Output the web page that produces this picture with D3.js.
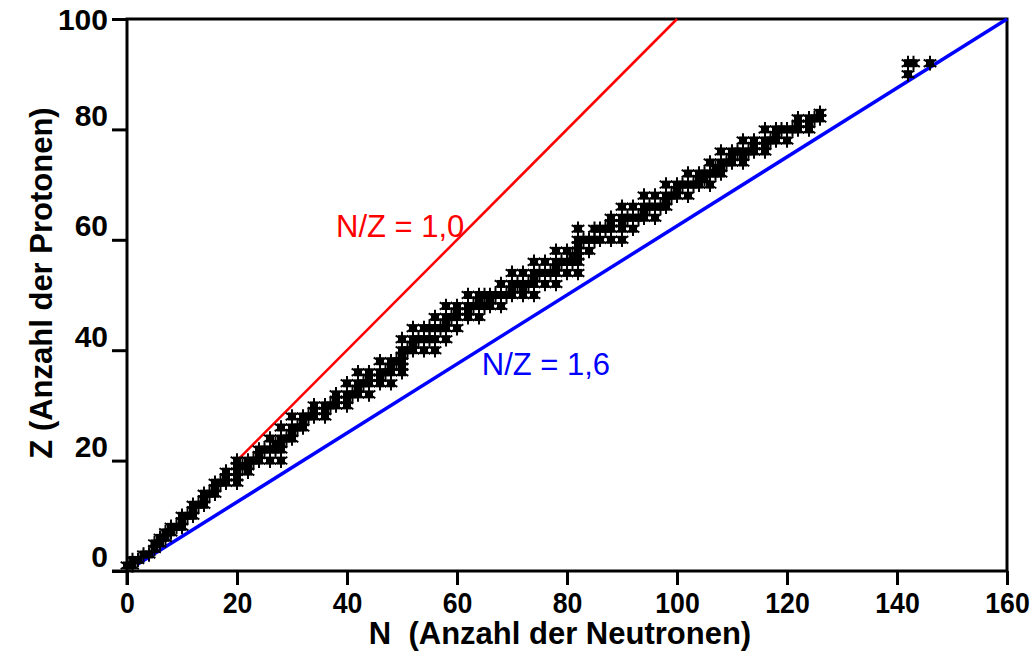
<!DOCTYPE html>
<html>
<head>
<meta charset="utf-8">
<script src="https://cdn.jsdelivr.net/npm/d3@7"></script>
<style>
    body { margin: 0; background: #fff; }
    svg { display: block; font-family: "Liberation Sans", Arial, sans-serif; }
</style>
</head>
<body>
<svg id="chart" width="1031" height="652"></svg>
<script>
// stable (and primordial) nuclides: proton number and the mass numbers found for it
var protonNumbers = [1, 2, 3, 4, 5, 6, 7, 8, 9, 10,
    11, 12, 13, 14, 15, 16, 17, 18, 19, 20,
    21, 22, 23, 24, 25, 26, 27, 28, 29, 30,
    31, 32, 33, 34, 35, 36, 37, 38, 39, 40,
    41, 42, 44, 45, 46, 47, 48, 49, 50, 51,
    52, 53, 54, 55, 56, 57, 58, 59, 60, 62,
    63, 64, 65, 66, 67, 68, 69, 70, 71, 72,
    73, 74, 75, 76, 77, 78, 79, 80, 81, 82,
    83, 90, 92];

var massNumbers = [
    [1, 2], [3, 4], [6, 7], [9], [10, 11], [12, 13], [14, 15], [16, 17, 18], [19], [20, 21, 22],
    [23], [24, 25, 26], [27], [28, 29, 30], [31], [32, 33, 34, 36], [35, 37], [36, 38, 40], [39, 40, 41], [40, 42, 43, 44, 46, 48],
    [45], [46, 47, 48, 49, 50], [50, 51], [50, 52, 53, 54], [55], [54, 56, 57, 58], [59], [58, 60, 61, 62, 64], [63, 65], [64, 66, 67, 68, 70],
    [69, 71], [70, 72, 73, 74, 76], [75], [74, 76, 77, 78, 80, 82], [79, 81], [78, 80, 82, 83, 84, 86], [85, 87], [84, 86, 87, 88], [89], [90, 91, 92, 94, 96],
    [93], [92, 94, 95, 96, 97, 98, 100], [96, 98, 99, 100, 101, 102, 104], [103], [102, 104, 105, 106, 108, 110], [107, 109], [106, 108, 110, 111, 112, 113, 114, 116], [113, 115], [112, 114, 115, 116, 117, 118, 119, 120, 122, 124], [121, 123],
    [120, 122, 123, 124, 125, 126, 128, 130], [127], [124, 126, 128, 129, 130, 131, 132, 134, 136], [133], [130, 132, 134, 135, 136, 137, 138], [138, 139], [136, 138, 140, 142], [141], [142, 143, 144, 145, 146, 148, 150], [144, 147, 148, 149, 150, 152, 154],
    [151, 153], [152, 154, 155, 156, 157, 158, 160], [159], [156, 158, 160, 161, 162, 163, 164], [165], [162, 164, 166, 167, 168, 170], [169], [168, 170, 171, 172, 173, 174, 176], [175, 176], [174, 176, 177, 178, 179, 180],
    [180, 181], [180, 182, 183, 184, 186], [185, 187], [184, 186, 187, 188, 189, 190, 192], [191, 193], [190, 192, 194, 195, 196, 198], [197], [196, 198, 199, 200, 201, 202, 204], [203, 205], [204, 206, 207, 208],
    [209], [232], [234, 235, 238]];

var xTicks = [0, 20, 40, 60, 80, 100, 120, 140, 160];
var yTicks = [0, 20, 40, 60, 80, 100];

// reference lines N/Z = const, given as [N start, N end]
var ratioLines = [
    {ratio: 1.0, range: [20, 100], color: "#ff0000", width: 2.5, label: "N/Z = 1,0", at: [38, 60.5]},
    {ratio: 1.6, range: [2, 160], color: "#0000ff", width: 3.5, label: "N/Z = 1,6", at: [64.5, 35.5]}
];

var svg = d3.select("#chart");

var x = d3.scaleLinear().domain([0, 160]).range([127, 1007]);
var y = d3.scaleLinear().domain([0, 100]).range([571, 19]);

var nuclides = [];
protonNumbers.forEach((z, i) => {
    massNumbers[i].forEach(a => nuclides.push({z: z, n: a - z}));
});

//Frame
svg.append("rect")
    .attr("x", x(0)).attr("y", y(100))
    .attr("width", x(160) - x(0)).attr("height", y(0) - y(100))
    .attr("fill", "none").attr("stroke", "#000").attr("stroke-width", 3);

// axis line extensions past the corner
svg.append("line").attr("x1", x(0) - 15).attr("x2", x(0)).attr("y1", y(0)).attr("y2", y(0))
    .attr("stroke", "#000").attr("stroke-width", 3);
svg.append("line").attr("x1", x(0)).attr("x2", x(0)).attr("y1", y(0)).attr("y2", y(0) + 14)
    .attr("stroke", "#000").attr("stroke-width", 3);

var xAxis = svg.append("g")
    .attr("transform", "translate(0," + y(0) + ")")
    .call(d3.axisBottom(x).tickValues(xTicks).tickSize(14).tickSizeOuter(0).tickFormat(d3.format("d")));

var yAxis = svg.append("g")
    .attr("transform", "translate(" + x(0) + ",0)")
    .call(d3.axisLeft(y).tickValues(yTicks).tickSize(15).tickSizeOuter(0).tickFormat(d3.format("d")));

[xAxis, yAxis].forEach(ax => {
    ax.select(".domain").remove();
    ax.selectAll(".tick line").attr("stroke", "#000").attr("stroke-width", 3);
    ax.selectAll(".tick text")
        .attr("fill", "#000")
        .style("font-size", "30px")
        .style("font-weight", "bold")
        .style("font-family", "'Liberation Sans', Arial, sans-serif");
});

// the bottom labels are a bit narrower in the original
xAxis.selectAll(".tick text").attr("y", 42).attr("dy", 0)
    .style("font-size", "29px")
    .attr("transform", "scale(0.92,1)");
yAxis.selectAll(".tick text").attr("x", -19)
    .attr("dy", d => d == 100 ? "0.36em" : "-0.14em");

// axis titles
svg.append("text")
    .attr("x", 560).attr("y", 644)
    .attr("text-anchor", "middle")
    .style("font-size", "31px").style("font-weight", "bold")
    .style("white-space", "pre")
    .text("N  (Anzahl der Neutronen)");

svg.append("text")
    .attr("transform", "translate(52,283) rotate(-90)")
    .attr("text-anchor", "middle")
    .style("font-size", "31px").style("font-weight", "bold")
    .text("Z (Anzahl der Protonen)");

//Ratio lines
var line = d3.line().x(d => x(d[0])).y(d => y(d[1]));

ratioLines.forEach(r => {
    svg.append("path")
        .attr("d", line(r.range.map(n => [n, n / r.ratio])))
        .attr("fill", "none")
        .attr("stroke", r.color)
        .attr("stroke-width", r.width);

    svg.append("text")
        .attr("x", x(r.at[0])).attr("y", y(r.at[1]))
        .attr("fill", r.color)
        .style("font-size", "31px")
        .text(r.label);
});

//Nuclide markers
var pts = svg.append("g").selectAll("g")
    .data(nuclides)
    .enter().append("g")
    .attr("transform", d => "translate(" + x(d.n) + "," + y(d.z) + ")");

pts.append("path")
    .attr("d", d3.symbol().type(d3.symbolSquare).size(64))
    .attr("fill", "#000");

pts.append("path")
    .attr("d", d3.symbol().type(d3.symbolAsterisk).size(150))
    .attr("fill", "none")
    .attr("stroke", "#000")
    .attr("stroke-width", 2);
</script>
</body>
</html>
